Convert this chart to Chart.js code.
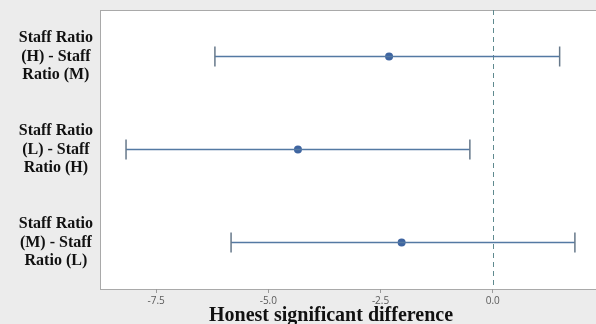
<!DOCTYPE html>
<html>
<head>
<meta charset="utf-8">
<script src="https://cdn.jsdelivr.net/npm/chart.js@4.4.1/dist/chart.umd.min.js"></script>
<style>
  html, body { margin: 0; padding: 0; background: #ececec; }
  #wrap { width: 596px; height: 324px; }
</style>
</head>
<body>
<div id="wrap"><canvas id="c" width="596" height="324"></canvas></div>
<script>
// Tukey HSD comparisons: pairwise differences with 95% intervals
const comparisons = [
  ["Staff Ratio", "(H) - Staff", "Ratio (M)"],
  ["Staff Ratio", "(L) - Staff", "Ratio (H)"],
  ["Staff Ratio", "(M) - Staff", "Ratio (L)"]
];
const meanDiff = [-2.31, -4.34, -2.03];
const lowerCI  = [-6.19, -8.17, -5.83];
const upperCI  = [1.49, -0.51, 1.83];
const xTickValues = [-7.5, -5.0, -2.5, 0.0];
const xTitle = "Honest significant difference";

const lineColor = "#5479a3";
const capColor = "#66788a";
const dotColor = "#3e64a0";

const rowIndex = comparisons.map((_, i) => i);

const intervalSets = rowIndex.map(i => ({
  data: [{ x: lowerCI[i], y: i }, { x: upperCI[i], y: i }],
  showLine: true,
  borderColor: lineColor,
  borderWidth: 1.5,
  pointStyle: "line",
  pointRadius: 10,
  pointRotation: 90,
  pointBorderColor: capColor,
  pointBorderWidth: 1.5,
  pointHoverRadius: 10
}));

const meanSet = {
  data: rowIndex.map(i => ({ x: meanDiff[i], y: i })),
  pointStyle: "circle",
  pointRadius: 4,
  pointBackgroundColor: dotColor,
  pointBorderColor: dotColor,
  pointBorderWidth: 0,
  showLine: false
};

// panel background, white plot area and its frame
const framePlugin = {
  id: "frame",
  beforeDraw(chart) {
    const { ctx, chartArea: a } = chart;
    ctx.save();
    ctx.fillStyle = "#ececec";
    ctx.fillRect(0, 0, chart.width, chart.height);
    ctx.fillStyle = "#ffffff";
    ctx.fillRect(a.left, a.top, a.right - a.left, a.bottom - a.top);
    ctx.strokeStyle = "#a9a9a9";
    ctx.lineWidth = 1;
    ctx.strokeRect(a.left + 0.5, a.top + 0.5, a.right - a.left, a.bottom - a.top);
    ctx.restore();
  }
};

// dashed reference line at zero difference
const zeroLinePlugin = {
  id: "zeroLine",
  beforeDatasetsDraw(chart) {
    const { ctx, chartArea: a, scales } = chart;
    const x = Math.round(scales.x.getPixelForValue(0)) + 0.5;
    ctx.save();
    ctx.strokeStyle = "#5f8a8f";
    ctx.lineWidth = 1;
    ctx.setLineDash([5, 4]);
    ctx.beginPath();
    ctx.moveTo(x, a.top);
    ctx.lineTo(x, a.bottom);
    ctx.stroke();
    ctx.restore();
  }
};

// x axis title
const titlePlugin = {
  id: "xTitle",
  afterDraw(chart) {
    const { ctx } = chart;
    ctx.save();
    ctx.fillStyle = "#111111";
    ctx.font = "bold 20px 'Liberation Serif', 'Times New Roman', serif";
    ctx.textAlign = "center";
    ctx.textBaseline = "alphabetic";
    ctx.fillText(xTitle, 331, 321);
    ctx.restore();
  }
};

new Chart(document.getElementById("c"), {
  type: "scatter",
  data: { datasets: [...intervalSets, meanSet] },
  options: {
    responsive: false,
    animation: false,
    events: [],
    layout: { autoPadding: false, padding: { top: 10, right: 0, bottom: 0, left: 0 } },
    plugins: { legend: { display: false }, tooltip: { enabled: false } },
    scales: {
      x: {
        type: "linear",
        min: -8.75,
        max: 2.3,
        afterBuildTicks(scale) {
          scale.ticks = xTickValues.map(v => ({ value: v }));
        },
        afterFit(scale) {
          scale.height = 35;
          scale.paddingLeft = 0;
          scale.paddingRight = 0;
        },
        border: { display: false },
        grid: {
          drawOnChartArea: false,
          drawTicks: true,
          tickLength: 4,
          color: "#9a9a9a"
        },
        ticks: {
          padding: 2,
          color: "#5a5a5a",
          font: { family: "'Open Sans', sans-serif", size: 10 },
          callback: v => Number(v).toFixed(1),
          maxRotation: 0
        }
      },
      y: {
        type: "linear",
        reverse: true,
        min: -0.5,
        max: comparisons.length - 0.5,
        afterBuildTicks(scale) {
          scale.ticks = rowIndex.map(i => ({ value: i }));
        },
        afterFit(scale) {
          scale.width = 100;
          scale.paddingTop = 0;
          scale.paddingBottom = 0;
        },
        border: { display: false },
        grid: { display: false, drawTicks: false },
        ticks: {
          crossAlign: "center",
          padding: 7,
          color: "#111111",
          callback: v => comparisons[v],
          font: { family: "'Liberation Serif', 'Times New Roman', serif", size: 16, weight: "bold", lineHeight: 1.16 }
        }
      }
    }
  },
  plugins: [framePlugin, zeroLinePlugin, titlePlugin]
});
</script>
</body>
</html>
